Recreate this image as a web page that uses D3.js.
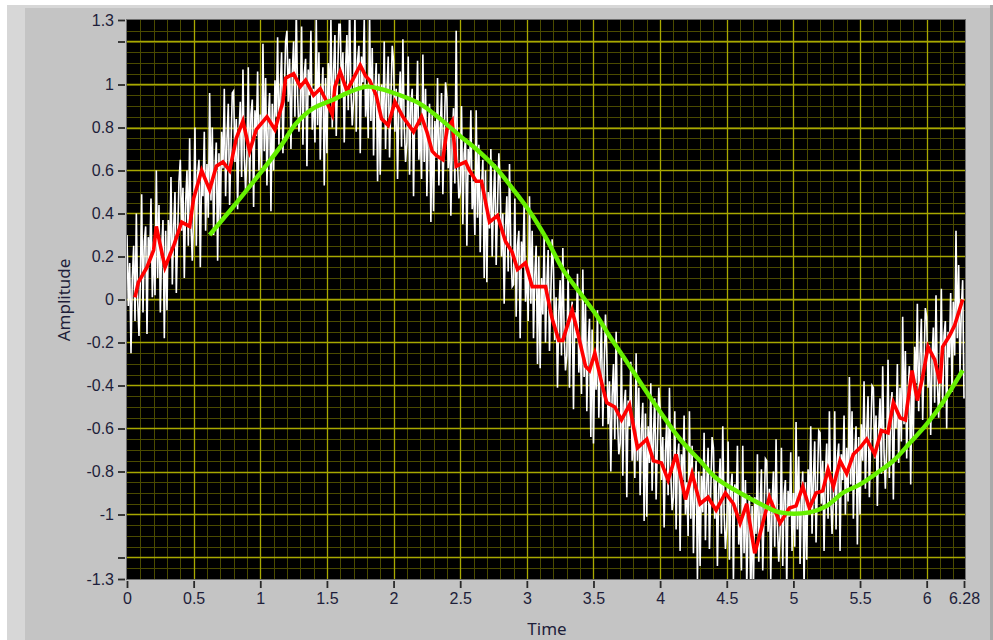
<!DOCTYPE html>
<meta charset="utf-8">
<style>
body { margin: 0; background: #fff; }
svg { display: block; font-family: "Noto Sans", sans-serif; }
.axis .tick text { font-size: 16px; fill: #1e1e3a; }
.axis .tick line { stroke: #2a2a2a; stroke-width: 1.8; }
.title { font-size: 17px; fill: #1e1e3a; }
</style>
<body>
<svg width="993" height="640"></svg>
<script src="https://d3js.org/d3.v7.min.js"></script>
<script>
// ---- data ----
var xTicks = [0, 0.5, 1, 1.5, 2, 2.5, 3, 3.5, 4, 4.5, 5, 5.5, 6, 6.28];
var yTicks = [-1.3, -1.2, -1, -0.8, -0.6, -0.4, -0.2, 0, 0.2, 0.4, 0.6, 0.8, 1, 1.2, 1.3];

// noisy signal (white), one sample every 0.01, one row per 0.1 of time
var dt = 0.01;
var noisy = [
  0.30, -0.03, 0.17, -0.25, 0.10, 0.25, -0.10, 0.40, 0.00, -0.17,
  0.09, 0.49, -0.06, 0.27, 0.34, -0.16, 0.29, 0.17, 0.47, 0.01,
  0.27, 0.02, 0.60, 0.10, 0.44, -0.06, 0.24, 0.37, -0.18, 0.32,
  -0.05, 0.37, 0.20, 0.57, 0.07, 0.33, 0.50, 0.03, 0.30, 0.55,
  0.65, 0.32, 0.52, 0.10, 0.45, 0.60, 0.25, 0.75, 0.35, 0.18,
  0.40, 0.80, 0.25, 0.58, 0.65, 0.15, 0.60, 0.48, 0.78, 0.32,
  0.63, 0.38, 0.96, 0.46, 0.80, 0.30, 0.60, 0.73, 0.18, 0.68,
  0.36, 0.78, 0.61, 0.98, 0.48, 0.74, 0.91, 0.44, 0.71, 0.96,
  0.97, 0.64, 0.84, 0.42, 0.77, 0.92, 0.57, 1.07, 0.67, 0.50,
  0.68, 1.08, 0.53, 0.86, 0.93, 0.43, 0.88, 0.76, 1.06, 0.60,
  0.86, 0.61, 1.19, 0.69, 1.03, 0.53, 0.83, 0.96, 0.41, 0.91,
  0.60, 1.02, 0.85, 1.22, 0.72, 0.98, 1.15, 0.68, 0.95, 1.20,
  1.25, 0.92, 1.12, 0.70, 1.05, 1.20, 0.85, 1.35, 0.95, 0.78,
  0.87, 1.27, 0.72, 1.05, 1.12, 0.62, 1.07, 0.95, 1.25, 0.79,
  0.98, 0.73, 1.31, 0.81, 1.15, 0.65, 0.95, 1.08, 0.53, 1.03,
  0.68, 1.10, 0.93, 1.30, 0.80, 1.06, 1.23, 0.76, 1.03, 1.28,
  1.28, 0.95, 1.15, 0.73, 1.08, 1.23, 0.88, 1.38, 0.98, 0.81,
  0.93, 1.33, 0.78, 1.11, 1.18, 0.68, 1.13, 1.01, 1.31, 0.85,
  1.00, 0.75, 1.33, 0.83, 1.17, 0.67, 0.97, 1.10, 0.55, 1.05,
  0.58, 1.00, 0.83, 1.20, 0.70, 0.96, 1.13, 0.66, 0.93, 1.18,
  1.11, 0.78, 0.98, 0.56, 0.91, 1.06, 0.71, 1.21, 0.81, 0.64,
  0.73, 1.13, 0.58, 0.91, 0.98, 0.48, 0.93, 0.81, 1.11, 0.65,
  0.81, 0.56, 1.14, 0.64, 0.98, 0.48, 0.78, 0.91, 0.36, 0.86,
  0.41, 0.83, 0.66, 1.03, 0.53, 0.79, 0.96, 0.49, 0.76, 1.01,
  0.94, 0.61, 0.81, 0.39, 0.74, 0.89, 0.54, 1.25, 0.64, 0.47,
  0.50, 0.90, 0.35, 0.68, 0.75, 0.25, 0.70, 0.58, 0.88, 0.42,
  0.55, 0.30, 0.88, 0.38, 0.72, 0.22, 0.52, 0.65, 0.10, 0.60,
  0.08, 0.50, 0.33, 0.70, 0.20, 0.46, 0.63, 0.16, 0.43, 0.68,
  0.53, 0.20, 0.40, -0.02, 0.33, 0.48, 0.13, 0.63, 0.23, 0.06,
  0.07, 0.47, -0.08, 0.25, 0.32, -0.18, 0.27, 0.15, 0.45, -0.01,
  0.15, -0.10, 0.48, -0.02, 0.32, -0.18, 0.12, 0.25, -0.30, 0.20,
  -0.32, 0.10, -0.07, 0.30, -0.20, 0.06, 0.23, -0.24, 0.03, 0.28,
  0.14, -0.19, 0.01, -0.41, -0.06, 0.09, -0.26, 0.24, -0.16, -0.33,
  -0.26, 0.14, -0.41, -0.08, -0.01, -0.51, -0.06, -0.18, 0.12, -0.34,
  -0.19, -0.44, 0.14, -0.36, -0.02, -0.52, -0.22, -0.09, -0.64, -0.14,
  -0.67, -0.25, -0.42, -0.05, -0.55, -0.29, -0.12, -0.59, -0.32, -0.07,
  -0.25, -0.58, -0.38, -0.80, -0.45, -0.30, -0.65, -0.15, -0.55, -0.72,
  -0.67, -0.27, -0.82, -0.49, -0.42, -0.92, -0.47, -0.59, -0.29, -0.75,
  -0.58, -0.83, -0.25, -0.75, -0.41, -0.91, -0.61, -0.48, -1.03, -0.53,
  -1.01, -0.59, -0.76, -0.39, -0.89, -0.63, -0.46, -0.93, -0.66, -0.41,
  -0.51, -0.84, -0.64, -1.06, -0.71, -0.56, -0.91, -0.41, -0.81, -0.98,
  -0.92, -0.52, -1.07, -0.74, -0.67, -1.17, -0.72, -0.84, -0.54, -1.00,
  -0.85, -1.10, -0.52, -1.02, -0.68, -1.18, -0.88, -0.75, -1.30, -0.80,
  -1.24, -0.82, -0.99, -0.62, -1.12, -0.86, -0.69, -1.16, -0.89, -0.64,
  -0.69, -1.02, -0.82, -1.24, -0.89, -0.74, -1.09, -0.59, -0.99, -1.16,
  -1.06, -0.66, -1.21, -0.88, -0.81, -1.31, -0.86, -0.98, -0.68, -1.14,
  -1.01, -1.26, -0.68, -1.18, -0.84, -1.34, -1.04, -0.91, -1.40, -0.96,
  -1.34, -0.92, -1.09, -0.72, -1.22, -0.96, -0.79, -1.26, -0.99, -0.74,
  -0.75, -1.08, -0.88, -1.30, -0.95, -0.80, -1.15, -0.65, -1.05, -1.22,
  -1.09, -0.69, -1.24, -0.91, -0.84, -1.34, -0.89, -1.01, -0.71, -1.17,
  -0.90, -1.15, -0.57, -1.07, -0.73, -1.23, -0.93, -0.80, -1.35, -0.85,
  -1.21, -0.79, -0.96, -0.59, -1.09, -0.83, -0.66, -1.13, -0.86, -0.61,
  -0.62, -0.95, -0.75, -1.17, -0.82, -0.67, -1.02, -0.52, -0.92, -1.09,
  -0.92, -0.52, -1.07, -0.74, -0.67, -1.17, -0.72, -0.84, -0.54, -1.00,
  -0.69, -0.94, -0.36, -0.86, -0.52, -1.02, -0.72, -0.59, -1.14, -0.64,
  -1.00, -0.58, -0.75, -0.38, -0.88, -0.62, -0.45, -0.92, -0.65, -0.40,
  -0.41, -0.74, -0.54, -0.96, -0.61, -0.46, -0.81, -0.31, -0.71, -0.88,
  -0.68, -0.28, -0.83, -0.50, -0.43, -0.93, -0.48, -0.60, -0.30, -0.76,
  -0.41, -0.66, -0.08, -0.58, -0.24, -0.74, -0.44, -0.31, -0.86, -0.36,
  -0.64, -0.22, -0.39, -0.02, -0.52, -0.26, -0.09, -0.56, -0.29, -0.04,
  -0.08, -0.41, -0.21, -0.63, -0.28, -0.13, -0.48, 0.02, -0.38, -0.55,
  -0.35, 0.05, -0.50, -0.17, -0.10, -0.60, -0.15, -0.27, 0.03, -0.43,
  -0.01, -0.26, 0.32, -0.18, 0.16, -0.34, -0.04, 0.09, -0.46
];

// smoothed (red) trace
var redT = [0.06, 0.085, 0.15, 0.2, 0.22, 0.285, 0.35, 0.41, 0.47, 0.5, 0.56, 0.62, 0.67, 0.72, 0.77,
  0.82, 0.87, 0.92, 0.97, 1.05, 1.11, 1.17, 1.19, 1.25, 1.3, 1.34, 1.4, 1.45, 1.49, 1.54, 1.56, 1.6,
  1.65, 1.7, 1.75, 1.79, 1.82, 1.87, 1.91, 1.96, 2.01, 2.07, 2.15, 2.21, 2.25, 2.29, 2.32, 2.37, 2.4,
  2.44, 2.47, 2.54, 2.57, 2.62, 2.66, 2.72, 2.78, 2.84, 2.89, 2.93, 2.99, 3.04, 3.08, 3.14, 3.19, 3.24,
  3.27, 3.34, 3.38, 3.44, 3.47, 3.51, 3.57, 3.6, 3.66, 3.71, 3.77, 3.83, 3.9, 3.95, 4.01, 4.06, 4.12,
  4.19, 4.24, 4.3, 4.36, 4.42, 4.49, 4.55, 4.6, 4.65, 4.71, 4.75, 4.82, 4.9, 4.97, 5.02, 5.07, 5.12,
  5.17, 5.22, 5.26, 5.3, 5.35, 5.4, 5.45, 5.5, 5.55, 5.61, 5.66, 5.71, 5.75, 5.8, 5.84, 5.89, 5.93,
  5.97, 6.01, 6.06, 6.1, 6.12, 6.17, 6.21, 6.23, 6.27];
var redV = [0.01, 0.08, 0.15, 0.23, 0.34, 0.15, 0.25, 0.36, 0.34, 0.47, 0.6, 0.51, 0.62, 0.64, 0.6,
  0.75, 0.83, 0.69, 0.79, 0.85, 0.79, 0.92, 1.03, 1.05, 0.99, 1.02, 0.95, 0.98, 0.93, 0.86, 0.99, 1.06,
  0.97, 1.03, 1.09, 1.04, 1.02, 0.95, 0.84, 0.81, 0.92, 0.85, 0.78, 0.85, 0.78, 0.69, 0.67, 0.65, 0.79,
  0.83, 0.62, 0.64, 0.6, 0.55, 0.55, 0.36, 0.39, 0.27, 0.22, 0.14, 0.17, 0.06, 0.06, 0.06, -0.09, -0.19,
  -0.19, -0.05, -0.15, -0.31, -0.33, -0.25, -0.41, -0.48, -0.5, -0.56, -0.49, -0.69, -0.65, -0.75, -0.76, -0.84, -0.72,
  -0.93, -0.81, -0.95, -0.92, -0.98, -0.9, -0.95, -1.04, -0.95, -1.18, -1.09, -0.92, -1.04, -0.97, -0.96, -0.87, -0.97,
  -0.9, -0.89, -0.79, -0.87, -0.75, -0.81, -0.72, -0.69, -0.65, -0.72, -0.61, -0.62, -0.48, -0.55, -0.56, -0.33, -0.47,
  -0.36, -0.22, -0.28, -0.39, -0.22, -0.17, -0.12, -0.08, 0.0];

// delayed sine (green) trace
var greenT = [0.62, 0.9, 1.15, 1.27, 1.4, 1.55, 1.65, 1.8, 1.9, 2.05, 2.2, 2.35, 2.5, 2.62, 2.77, 2.9,
  3.02, 3.15, 3.27, 3.4, 3.53, 3.62, 3.75, 3.92, 4.15, 4.3, 4.42, 4.6, 4.75, 4.9, 5.12, 5.25, 5.37,
  5.5, 5.62, 5.75, 5.87, 6.0, 6.12, 6.27];
var greenV = [0.3, 0.51, 0.71, 0.82, 0.89, 0.93, 0.96, 0.99, 0.98, 0.95, 0.91, 0.84, 0.76, 0.7, 0.61, 0.51,
  0.41, 0.28, 0.14, 0.03, -0.08, -0.17, -0.29, -0.45, -0.65, -0.75, -0.83, -0.9, -0.95, -0.99, -0.99, -0.96, -0.9,
  -0.86, -0.81, -0.75, -0.67, -0.58, -0.48, -0.33];

// ---- drawing ----
var svg = d3.select("svg");

// window frame
svg.append("rect").attr("x", 7).attr("y", 5).attr("width", 983).attr("height", 635).attr("fill", "#d7d7d7");
svg.append("rect").attr("x", 25).attr("y", 8).attr("width", 965).attr("height", 632).attr("fill", "#c4c4c4");
svg.append("rect").attr("x", 990).attr("y", 5).attr("width", 3).attr("height", 635).attr("fill", "#a9a9a9");

var x = d3.scaleLinear().domain([0, 6.28]).range([127, 964]);
var y = d3.scaleLinear().domain([-1.3, 1.3]).range([579, 20]);

svg.append("clipPath").attr("id", "plotclip")
  .append("rect").attr("x", 127).attr("y", 20).attr("width", 838).attr("height", 559);

svg.append("rect")
    .attr("x", 127).attr("y", 20).attr("width", 838).attr("height", 559)
    .attr("fill", "#000");

var grid = svg.append("g").attr("clip-path", "url(#plotclip)");

// minor grid
grid.selectAll(".vminor").data(d3.range(0.1, 6.28, 0.1)).enter().append("line")
    .attr("x1", function(d) { return Math.round(x(d)) + 0.5; })
    .attr("x2", function(d) { return Math.round(x(d)) + 0.5; })
    .attr("y1", 20).attr("y2", 579)
    .attr("stroke", "#4a4a00").attr("stroke-width", 1);
grid.selectAll(".hminor").data(d3.range(-1.25, 1.3, 0.05)).enter().append("line")
    .attr("y1", function(d) { return Math.round(y(d)) + 0.5; })
    .attr("y2", function(d) { return Math.round(y(d)) + 0.5; })
    .attr("x1", 127).attr("x2", 965)
    .attr("stroke", "#4a4a00").attr("stroke-width", 1);

// major grid
grid.selectAll(".vmajor").data(d3.range(0.5, 6.1, 0.5)).enter().append("line")
    .attr("x1", function(d) { return Math.round(x(d)) + 0.5; })
    .attr("x2", function(d) { return Math.round(x(d)) + 0.5; })
    .attr("y1", 20).attr("y2", 579)
    .attr("stroke", "#a8a800").attr("stroke-width", 1.3);
grid.selectAll(".hmajor").data(d3.range(-1.2, 1.3, 0.2)).enter().append("line")
    .attr("y1", function(d) { return Math.round(y(d)) + 0.5; })
    .attr("y2", function(d) { return Math.round(y(d)) + 0.5; })
    .attr("x1", 127).attr("x2", 965)
    .attr("stroke", "#a8a800").attr("stroke-width", 1.3);

// traces
var plot = svg.append("g").attr("clip-path", "url(#plotclip)");

var line = d3.line()
    .x(function(d) { return x(d[0]); })
    .y(function(d) { return y(d[1]); });

plot.append("path")
    .datum(noisy.map(function(v, i) { return [i * dt, v]; }))
    .attr("d", line)
    .attr("fill", "none").attr("stroke", "#fff").attr("stroke-width", 1.6);

plot.append("path")
    .datum(redT.map(function(t, i) { return [t, redV[i]]; }))
    .attr("d", line)
    .attr("fill", "none").attr("stroke", "#ff0000").attr("stroke-width", 3.6);

plot.append("path")
    .datum(greenT.map(function(t, i) { return [t, greenV[i]]; }))
    .attr("d", line.curve(d3.curveCatmullRom))
    .attr("fill", "none").attr("stroke", "#66f000").attr("stroke-width", 4.4);

svg.append("rect")
    .attr("x", 126.5).attr("y", 19.5).attr("width", 839).attr("height", 560)
    .attr("fill", "none").attr("stroke", "#6e6e6e").attr("stroke-width", 1);

// axes
svg.append("g").attr("class", "axis")
    .attr("transform", "translate(125,0)")
    .call(d3.axisLeft(y).tickValues(yTicks).tickSize(7).tickPadding(4)
      .tickFormat(function(d) { return Math.abs(d) === 1.2 ? "" : String(d); }))
    .call(function(g) { g.select(".domain").remove(); });

svg.append("g").attr("class", "axis")
    .attr("transform", "translate(0,581)")
    .call(d3.axisBottom(x).tickValues(xTicks).tickSize(7).tickPadding(5)
      .tickFormat(function(d) { return String(d); }))
    .call(function(g) { g.select(".domain").remove(); });

svg.append("text").attr("class", "title")
    .attr("x", 547).attr("y", 635).attr("text-anchor", "middle")
    .text("Time");

svg.append("text").attr("class", "title")
    .attr("transform", "translate(70,300) rotate(-90)")
    .attr("text-anchor", "middle")
    .text("Amplitude");
</script>
